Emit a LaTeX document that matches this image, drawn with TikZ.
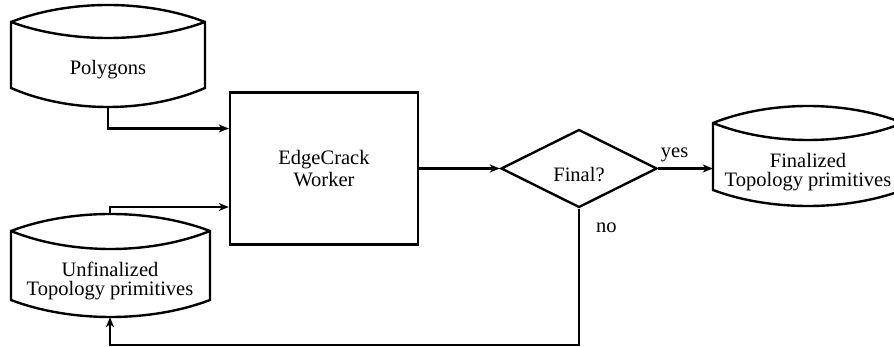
\documentclass[tikz,border=0pt]{standalone}
\usepackage{fontspec}
\setmainfont{Liberation Serif}
\usetikzlibrary{arrows.meta,shapes.geometric,calc}
\newcommand\drumshape[7]{%
  \pgfmathsetmacro\drmA{(8*#3-2*#4)/6}%
  \pgfmathsetmacro\drmB{(8*#5-2*#4)/6}%
  \pgfmathsetmacro\drmC{(8*#7-2*#6)/6}%
  \pgfmathsetmacro\drmXa{#1+0.3*(#2-#1)}%
  \pgfmathsetmacro\drmXb{#2-0.3*(#2-#1)}%
  \draw[ln] (#1,#4) .. controls (\drmXa,\drmA) and (\drmXb,\drmA) .. (#2,#4)
     -- (#2,#6) .. controls (\drmXb,\drmC) and (\drmXa,\drmC) .. (#1,#6) -- cycle;
  \draw[ln] (#1,#4) .. controls (\drmXa,\drmB) and (\drmXb,\drmB) .. (#2,#4);
}
\begin{document}
\begin{tikzpicture}[x=1pt,y=-1pt,
  ln/.style={line width=2.4pt},
  arr/.style={line width=2.4pt,-{Stealth[length=10pt,width=8pt,inset=3pt]}},
  txt/.style={font=\fontsize{20.5}{19}\selectfont,align=center,inner sep=0pt},
  bound/.style={rectangle,inner sep=0pt,draw=none}]
\useasboundingbox (0,0) rectangle (894,347);
% storage shapes
\drumshape{11}{205}{5}{22}{38}{88}{107}
\node[bound,minimum width=194pt,minimum height=102pt] (poly) at (108,56) {};
\node[txt,anchor=base] (polyt) at (108,75) {Polygons};

\drumshape{11}{210}{214}{231}{249}{300}{317}
\node[bound,minimum width=199pt,minimum height=103pt] (unf) at (110,265.5) {};
\node[txt] (unft) at (110,281) {Unfinalized\\Topology primitives};

\drumshape{713}{903}{106}{123}{140}{190}{206}
\node[bound,minimum width=190pt,minimum height=100pt] (fin) at (808,156) {};
\node[txt] (fint) at (808,172) {Finalized\\Topology primitives};

% worker box
\node[ln,draw,rectangle,minimum width=188pt,minimum height=152pt,
      font=\fontsize{20.5}{22}\selectfont,align=center,inner sep=0pt] (box) at (324,168.5) {EdgeCrack\\Worker};

% decision
\node[ln,draw,diamond,minimum width=156pt,minimum height=78pt,inner sep=0pt] (dec) at (579,168.5) {};
\node[txt,anchor=base] (dect) at (579,182) {Final?};

% connectors
\draw[arr] (poly.south) |- ([yshift=40pt]box.west);
\draw[arr] (unf.north) |- ([yshift=-38.5pt]box.west);
\draw[arr] (box.east) -- (dec.west);
\draw[arr] (dec.east) -- node[txt,pos=0.3,above,yshift=5pt] {yes} (dec.east -| fin.west);
\draw[arr] (dec.south) -- node[txt,pos=0.14,right,xshift=16pt] {no} ++(0,136) -| (unf.south);
\end{tikzpicture}
\end{document}
